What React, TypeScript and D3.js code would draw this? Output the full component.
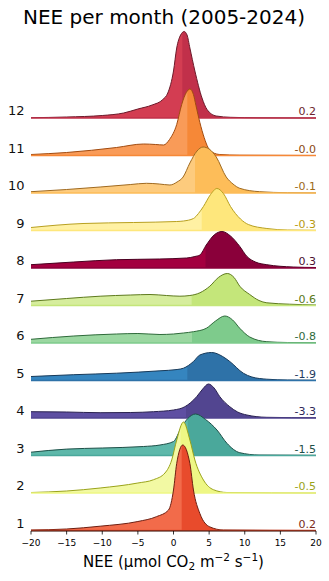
import React from 'react';
import * as d3 from 'd3';

type Pt = [number, number];

const months = [1, 2, 3, 4, 5, 6, 7, 8, 9, 10, 11, 12];
const meanLabels = ['0.2', '-0.5', '-1.5', '-3.3', '-1.9', '-0.8', '-0.6', '0.3', '-0.3', '-0.1', '-0.0', '0.2'];
const splitValues = [1.15, 1.0, 2.0, 1.75, 1.94, 2.6, 2.55, 4.5, 3.96, 3.0, 1.94, 1.24];
const xTicks = [-20, -15, -10, -5, 0, 5, 10, 15, 20];

const densJan: Pt[] = [[-20,0.005],[-15,0.015],[-10.3,0.043],[-5,0.09],[-2.4,0.138],[-0.7,0.205],[0,0.405],[0.45,0.67],[1.3,0.855],[2.3,0.67],[2.8,0.405],[3.7,0.17],[5.1,0.036],[7,0.005],[20,0]];
const densFeb: Pt[] = [[-20,0.005],[-15,0.02],[-10.3,0.05],[-5,0.10],[-2.8,0.133],[-1.2,0.20],[-0.25,0.33],[0.45,0.53],[1.4,0.71],[2.3,0.53],[3.0,0.33],[4.2,0.13],[5.6,0.033],[7.5,0.005],[20,0]];
const densMar: Pt[] = [[-20,0.033],[-15,0.064],[-10,0.075],[-4.2,0.09],[-1.9,0.105],[0,0.14],[1.1,0.28],[2.0,0.37],[3.1,0.415],[4.5,0.36],[6.1,0.255],[7.5,0.122],[9.3,0.028],[12,0.005],[20,0.002]];
const densApr: Pt[] = [[-20,0.063],[-15,0.06],[-10.3,0.053],[-6,0.055],[-2.8,0.063],[0,0.08],[1.6,0.113],[3.25,0.213],[4.1,0.29],[4.9,0.34],[5.7,0.30],[6.5,0.213],[7.9,0.113],[9,0.06],[10.3,0.03],[13.1,0.007],[20,0.002]];
const densMay: Pt[] = [[-20,0.04],[-14,0.058],[-8,0.073],[-1.9,0.097],[0.5,0.11],[1.4,0.123],[2.8,0.19],[3.7,0.255],[5.35,0.28],[6.9,0.24],[7.9,0.19],[9.8,0.073],[11,0.035],[13.1,0.013],[16,0.005],[20,0.003]];
const densJun: Pt[] = [[-20,0.037],[-14,0.07],[-8,0.09],[-5,0.095],[-1.9,0.085],[0,0.09],[1.4,0.10],[2.8,0.113],[4.6,0.147],[5.9,0.22],[7.2,0.27],[8.3,0.23],[9.3,0.147],[10.7,0.06],[13.1,0.013],[16,0.005],[20,0.003]];
const densJul: Pt[] = [[-20,0.043],[-15,0.07],[-10.3,0.093],[-6,0.105],[-3.3,0.11],[-1,0.10],[0.9,0.093],[2.3,0.10],[3.7,0.127],[5.1,0.193],[6.3,0.28],[7.55,0.32],[8.5,0.28],[9.3,0.193],[10.7,0.11],[12,0.05],[13.1,0.027],[16.3,0.013],[20,0.005]];
const densAug: Pt[] = [[-20,0.033],[-14,0.06],[-8,0.083],[-2,0.09],[1.85,0.10],[3.0,0.115],[3.7,0.13],[4.6,0.23],[5.7,0.33],[6.8,0.365],[8,0.32],[9.3,0.216],[10.3,0.116],[11.5,0.06],[13.1,0.033],[16.8,0.01],[20,0.005]];
const densSep: Pt[] = [[-20,0.03],[-12.7,0.07],[-5.6,0.08],[0.45,0.09],[1.4,0.095],[2.8,0.12],[3.5,0.17],[4.2,0.24],[5.2,0.36],[6.1,0.42],[7.0,0.37],[8.0,0.24],[9.4,0.115],[10.5,0.06],[13.1,0.02],[16,0.005],[20,0.002]];
const densOct: Pt[] = [[-20,0.013],[-15,0.035],[-10.3,0.06],[-6,0.085],[-3.8,0.097],[-2,0.09],[-0.5,0.08],[0.5,0.11],[1.35,0.16],[2.3,0.30],[3.3,0.42],[4.15,0.46],[5,0.44],[6,0.36],[7.4,0.16],[8.35,0.09],[9.3,0.047],[12.1,0.013],[16,0.003],[20,0.001]];
const densNov: Pt[] = [[-20,0.01],[-15,0.03],[-8,0.08],[-4.2,0.115],[-2.5,0.11],[-1.4,0.105],[-0.56,0.16],[0.45,0.31],[1.15,0.51],[1.8,0.63],[2.3,0.665],[2.8,0.61],[3.15,0.50],[3.7,0.33],[4.3,0.18],[4.85,0.08],[5.5,0.03],[6.5,0.01],[9.3,0.003],[20,0]];
const densDec: Pt[] = [[-20,0.003],[-15,0.01],[-10,0.025],[-7,0.05],[-5,0.09],[-3,0.13],[-1.5,0.185],[-0.8,0.25],[0,0.47],[0.45,0.70],[1.0,0.83],[1.5,0.865],[1.9,0.83],[2.3,0.70],[3.0,0.47],[4.0,0.20],[4.7,0.086],[6,0.02],[8,0.007],[12,0.002],[20,0]];

const densities = [densJan, densFeb, densMar, densApr, densMay, densJun, densJul, densAug, densSep, densOct, densNov, densDec];

const leftColors = ['#f26b4a', '#f2f9a3', '#5eb8aa', '#5e4fa2', '#3585bf', '#9bd7a1', '#d6ed9d', '#a3003f', '#fff1a3', '#fdcb7d', '#f99b58', '#d33d52'];
const rightColors = ['#e84b2c', '#eef785', '#4aa89b', '#524590', '#2e72a8', '#7ecb8c', '#c4e67a', '#8a003a', '#fee77c', '#fdbd59', '#f68837', '#c1304a'];
const lineColors = ['#6e1e10', '#9aa31a', '#1e5048', '#2a2250', '#173a5a', '#2e6a3a', '#5e7a1e', '#4a0020', '#b8a020', '#a06a20', '#a14b10', '#6b1a2a'];
const labelColors = ['#7a2a18', '#9aa31a', '#1e5048', '#2e2858', '#1e3a5f', '#2f6a3c', '#5a7a20', '#4a1030', '#b89a10', '#9c6a18', '#8c4a12', '#6d1f2c'];

const W = 329;
const H = 581;
const FONT = 'DejaVu Sans, sans-serif';

export default function App() {
  const xScale = d3.scaleLinear().domain([-20, 20]).range([31, 316]);
  const yBase = d3.scaleLinear().domain([1, 12]).range([530.5, 118]);
  const hScale = d3.scaleLinear().domain([0, 1]).range([0, 100]);
  const axisY = 531;

  const order = [...months].reverse();

  return (
    <svg width={W} height={H} style={{ position: 'absolute', left: 0, top: 0, background: '#fff' }} fontFamily={FONT}>
      <defs>
        {months.map((m, i) => (
          <React.Fragment key={m}>
            <clipPath id={`cl-${m}`}>
              <rect x={0} y={0} width={xScale(splitValues[i]) + 1} height={H} />
            </clipPath>
            <clipPath id={`cr-${m}`}>
              <rect x={xScale(splitValues[i])} y={0} width={W} height={H} />
            </clipPath>
          </React.Fragment>
        ))}
      </defs>
      <text x={164} y={24} textAnchor="middle" fontSize={20} fill="#000">NEE per month (2005-2024)</text>
      {order.map((m) => {
        const i = m - 1;
        const base = yBase(m);
        const area = d3.area<Pt>()
          .x((d) => xScale(d[0]))
          .y0(base)
          .y1((d) => base - hScale(d[1]))
          .curve(d3.curveMonotoneX);
        const line = d3.line<Pt>()
          .x((d) => xScale(d[0]))
          .y((d) => base - hScale(d[1]))
          .curve(d3.curveMonotoneX);
        const a = area(densities[i]) || '';
        const l = line(densities[i]) || '';
        return (
          <g key={m}>
            <path d={a} fill={leftColors[i]} clipPath={`url(#cl-${m})`} />
            <path d={a} fill={rightColors[i]} clipPath={`url(#cr-${m})`} />
            <path d={l} fill="none" stroke={lineColors[i]} strokeWidth={1} />
            <line x1={xScale(-20)} x2={xScale(20)} y1={base} y2={base} stroke={rightColors[i]} strokeWidth={1.5} />
            <text x={24.5} y={base - 3} textAnchor="end" fontSize={13} fill="#111">{m}</text>
            <text x={316} y={base - 3} textAnchor="end" fontSize={11} fill={labelColors[i]}>{meanLabels[i]}</text>
          </g>
        );
      })}
      <line x1={xScale(-20)} x2={xScale(20)} y1={axisY} y2={axisY} stroke="#000" strokeWidth={0.8} />
      {xTicks.map((t) => (
        <g key={t}>
          <line x1={xScale(t)} x2={xScale(t)} y1={axisY} y2={axisY + 3.5} stroke="#000" strokeWidth={0.8} />
          <text x={xScale(t)} y={546} textAnchor="middle" fontSize={9} fill="#000">{t < 0 ? `\u2212${-t}` : `${t}`}</text>
        </g>
      ))}
      <text x={173.5} y={567} textAnchor="middle" fontSize={15} fill="#000">
        NEE (μmol CO<tspan fontSize={10.5} dy={3}>2</tspan>
        <tspan dy={-3}> m</tspan>
        <tspan fontSize={10.5} dy={-6}>−2</tspan>
        <tspan dy={6}> s</tspan>
        <tspan fontSize={10.5} dy={-6}>−1</tspan>
        <tspan dy={6}>)</tspan>
      </text>
    </svg>
  );
}
